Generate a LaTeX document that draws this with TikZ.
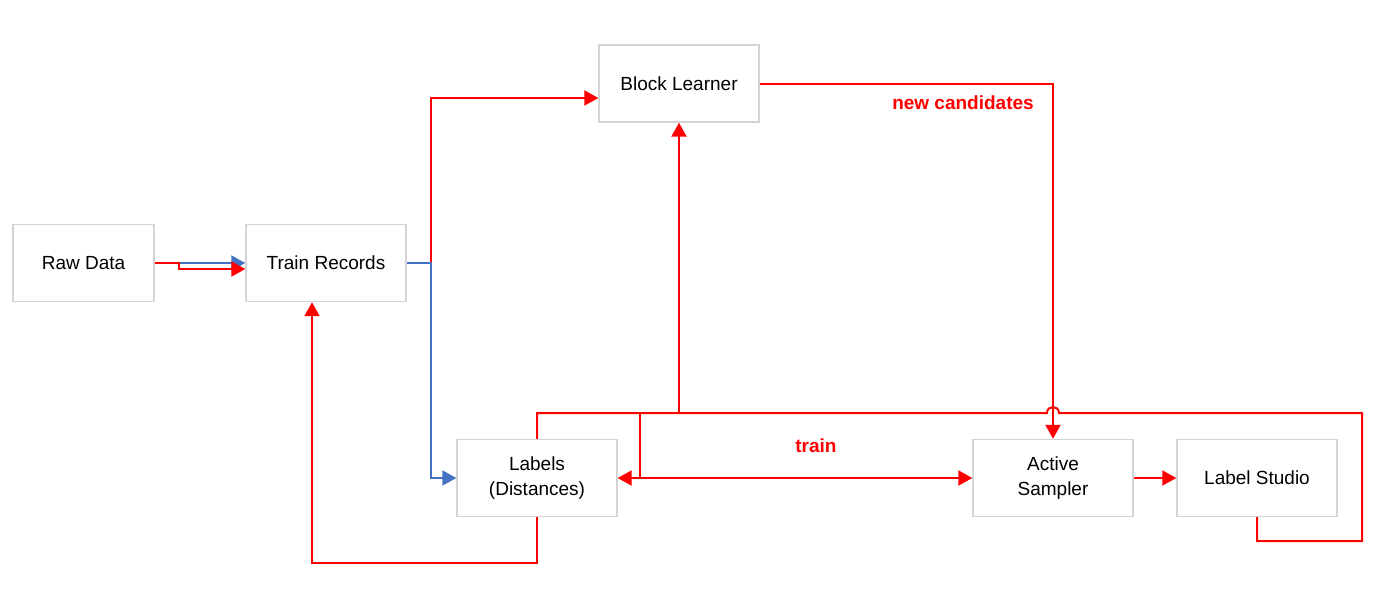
\documentclass[tikz,border=0pt]{standalone}
\usepackage{fontspec}
\setmainfont{Liberation Sans}
\usetikzlibrary{arrows.meta}
\definecolor{flowblue}{HTML}{4472C4}

\begin{document}
\begin{tikzpicture}[x=1pt,y=-1pt,>={Triangle[length=14pt,width=15pt]},
                    line width=2pt,
                    box/.style={draw=black!17,line width=1.4pt,fill=white,
                      minimum width=160pt,minimum height=77pt,align=center,
                      font=\fontsize{19}{25}\selectfont},
                    lbl/.style={text=red,font=\fontsize{19}{23}\selectfont\bfseries}]
  %\tikzstyle{every path}=[draw=red]
  \useasboundingbox (0,0) rectangle (1398,606);

  \node[box,minimum width=141pt] (raw) at (83.5,263) {Raw Data};
  \node[box] (train)   at (326,263)  {Train Records};
  \node[box] (block)   at (679,83.5) {Block Learner};
  \node[box] (labels)  at (537,478)  {Labels\\(Distances)};
  \node[box] (sampler) at (1053,478) {Active\\Sampler};
  \node[box] (studio)  at (1257,478) {Label Studio};

  \coordinate (fork) at (640,413);
  \coordinate (tap)  at (679,413);
  \coordinate (loop) at (1362,413);

  \draw[flowblue,->] (raw.east) -- (train.west);
  \draw[red,->] (raw.east) -- ++(24,0) -- ++(0,6) -- ([yshift=-6pt]train.west);
  \draw[red,->] (train.east) -- ++(24,0) |- ([yshift=-14.5pt]block.west);
  \draw[flowblue,->] (train.east) -- ++(24,0) |- (labels.west);
  \draw[red,->] (block.east) -| (sampler.north);
  \draw[red] (studio.south) -- ++(0,24) -| (loop) -- (1059,413)
        .. controls (1059,405) and (1047,405) .. (1047,413)
        -- (labels.north |- loop) -- (labels.north);
  \draw[red,->] (tap) -- (block.south);
  \draw[red,->] (fork) |- (labels.east);
  \draw[red,->] (fork |- labels.east) -- (sampler.west);
  \draw[red,->] (labels.south) -- ++(0,46) -| ([xshift=-14pt]train.south);
  \draw[red,->] (sampler.east) -- (studio.west);

  \node[lbl] (newcand)  at (963,103) {new candidates};
  \node[lbl] (trainlbl) at (816,446) {train};
\end{tikzpicture}
\end{document}
